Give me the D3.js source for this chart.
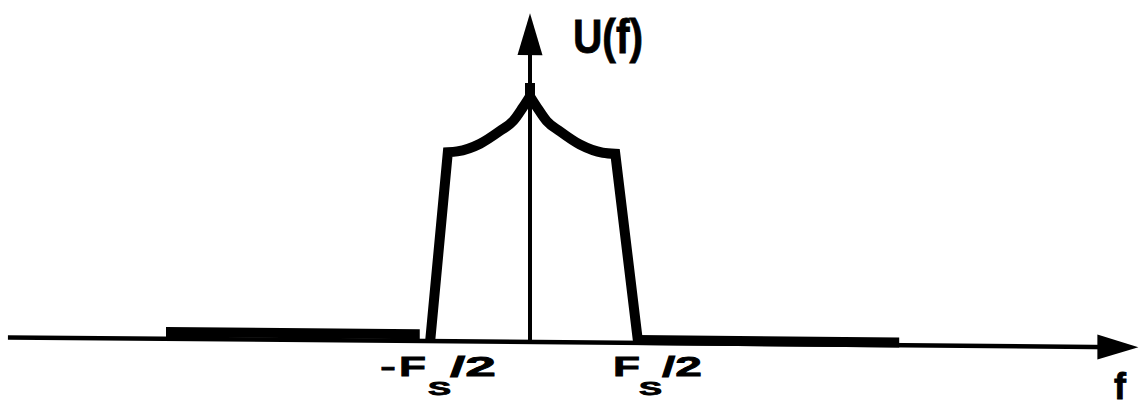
<!DOCTYPE html>
<html>
<head>
<meta charset="utf-8" />
<title>U(f)</title>
<script src="https://cdnjs.cloudflare.com/ajax/libs/d3/7.8.5/d3.min.js"></script>
<style>
  body { margin: 0; background: #fff; }
  text { font-family: "Liberation Sans", Arial, Helvetica, sans-serif; font-weight: bold; fill: #000; stroke: #000; stroke-width: 0.8; }
</style>
</head>
<body>
<svg id="chart" width="1143" height="401"></svg>
<script>
// frequency in units of Fs/2, amplitude relative to the flat part of the lobe
const lobeLeftF  = [-0.96, -0.79, -0.70, -0.48, -0.29, -0.16, -0.07, 0]
const lobeLeftU  = [0, 1.0, 1.005, 1.047, 1.115, 1.17, 1.24, 1.30]
const lobeRightF = [0, 0.07, 0.16, 0.29, 0.48, 0.70, 0.82, 1.04]
const lobeRightU = [1.30, 1.24, 1.17, 1.115, 1.047, 1.005, 1.0, 0]
const floorLeftF = [-3.5, -1.06]
const floorLeftU = [0.036, 0.036]
const floorRightF = [1.03, 3.55]
const floorRightU = [0.015, 0.015]
const cuspStubU = [1.30, 1.37]
const axisF = [-5.02, 5.85]
const axisTopU = 1.74

const svg = d3.select('#chart')
const x = d3.scaleLinear().domain([0, 1]).range([530, 634])
const y = d3.scaleLinear().domain([0, 1]).range([342, 153])

// the scanned figure is slightly sheared
let g = svg.append('g').attr('transform', 'translate(530,0) skewY(0.5) translate(-530,0)')

let pts = (fs, us) => fs.map((f, i) => [x(f), y(us[i])])
let lin = d3.line()
let curve = d3.line().curve(d3.curveMonotoneX)

// horizontal axis with arrow
g.append('line')
  .attr('x1', x(axisF[0])).attr('x2', x(axisF[1]) - 20)
  .attr('y1', y(0)).attr('y2', y(0))
  .attr('stroke', '#000').attr('stroke-width', 4.5)
let tipX = x(axisF[1])
g.append('path')
  .attr('d', lin([[tipX, y(0)], [tipX - 41, y(0) - 12.5], [tipX - 41, y(0) + 12.5]]) + 'Z')
  .attr('fill', '#000')

// vertical axis with arrow
let tipY = y(axisTopU)
g.append('line')
  .attr('x1', x(0)).attr('x2', x(0))
  .attr('y1', y(0)).attr('y2', tipY + 30)
  .attr('stroke', '#000').attr('stroke-width', 4)
g.append('path')
  .attr('d', lin([[x(0), tipY], [x(0) - 12.5, tipY + 42], [x(0) + 12.5, tipY + 42]]) + 'Z')
  .attr('fill', '#000')

// floor segments
;[[floorLeftF, floorLeftU], [floorRightF, floorRightU]].forEach(([fs, us]) => {
  g.append('path').attr('d', lin(pts(fs, us)))
    .attr('fill', 'none').attr('stroke', '#000').attr('stroke-width', 10)
})

// main lobe: left half = slope + curve, right half = curve + slope
let leftPts = pts(lobeLeftF, lobeLeftU)
let leftD = lin(leftPts.slice(0, 2)) + curve(leftPts.slice(1)).replace(/^M/, 'L')
let rightPts = pts(lobeRightF, lobeRightU)
let rightD = curve(rightPts.slice(0, -1)) + lin(rightPts.slice(-2)).replace(/^M/, 'L')
;[leftD, rightD].forEach(d => {
  g.append('path').attr('d', d)
    .attr('fill', 'none').attr('stroke', '#000')
    .attr('stroke-width', 10).attr('stroke-linejoin', 'miter')
})
g.append('line')
  .attr('x1', x(0)).attr('x2', x(0))
  .attr('y1', y(cuspStubU[0])).attr('y2', y(cuspStubU[1]))
  .attr('stroke', '#000').attr('stroke-width', 10)

// labels
svg.append('text').attr('x', 573).attr('y', 53)
  .attr('font-size', 48).attr('textLength', 70).attr('lengthAdjust', 'spacingAndGlyphs')
  .text('U(f)')

function fsLabel(x0, parts) {
  parts.forEach(p => {
    svg.append('text').attr('x', x0 + p.dx).attr('y', p.y)
      .attr('font-size', p.size).attr('textLength', p.len).attr('lengthAdjust', 'spacingAndGlyphs')
      .text(p.t)
  })
}
fsLabel(x(-1), [
  { t: '\u2013', dx: -45, y: 376, size: 28, len: 14 },
  { t: 'F', dx: -27, y: 376, size: 28, len: 27 },
  { t: 'S', dx: 2, y: 395, size: 18, len: 23 },
  { t: '/2', dx: 24, y: 376, size: 28, len: 46 }
])
fsLabel(x(1), [
  { t: 'F', dx: -21, y: 376, size: 28, len: 27 },
  { t: 'S', dx: 5, y: 395, size: 18, len: 23 },
  { t: '/2', dx: 28, y: 376, size: 28, len: 40 }
])
svg.append('text').attr('x', 1114).attr('y', 399).attr('font-size', 36).text('f')
</script>
</body>
</html>
